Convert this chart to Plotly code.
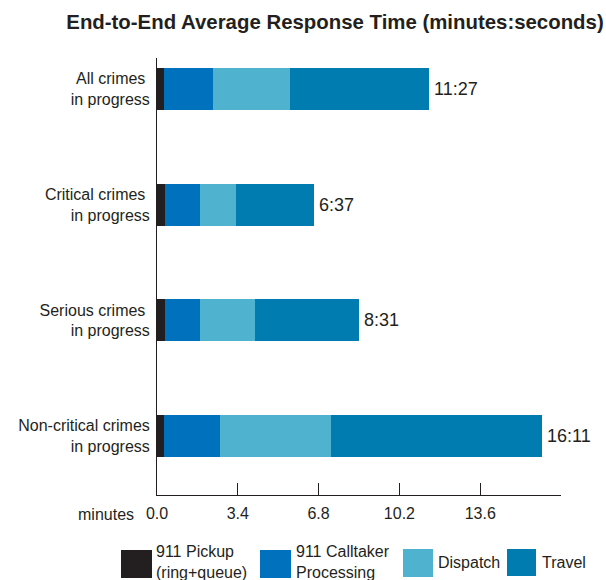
import plotly.graph_objects as go

# Crime categories (top to bottom) and phase durations in seconds
categories = [
    "All crimes\u00a0<br>in progress",
    "Critical crimes\u00a0<br>in progress",
    "Serious crimes\u00a0<br>in progress",
    "Non-critical crimes<br>in progress",
]
pickup_s = [18, 19, 19, 18]
calltaker_s = [124, 89, 90, 140]
dispatch_s = [195, 92, 138, 282]
travel_s = [350, 197, 264, 531]

phase_names = ["911 Pickup<br>(ring+queue)", "911 Calltaker<br>Processing", "Dispatch", "Travel"]
phase_colors = ["#231f20", "#0071bc", "#4fb3cf", "#007cb0"]
x_ticks = [0.0, 3.4, 6.8, 10.2, 13.6]

TEXT = "#231f20"
FONT = "Liberation Sans, Arial, sans-serif"

W, H = 606, 580
L, R, T, B = 157, 45, 58, 85

fig = go.Figure()
series = [pickup_s, calltaker_s, dispatch_s, travel_s]
for name, color, secs in zip(phase_names, phase_colors, series):
    fig.add_trace(go.Bar(
        y=categories,
        x=[s / 60 for s in secs],
        orientation="h",
        name=name,
        marker=dict(color=color, line=dict(width=0)),
        width=0.363,
        showlegend=False,
        hoverinfo="skip",
    ))

# Total time labels at the end of each bar (mm:ss)
totals = [sum(v) for v in zip(*series)]
for cat, tot in zip(categories, totals):
    fig.add_annotation(
        x=tot / 60, y=cat, xref="x", yref="y",
        text=f"{tot // 60}:{tot % 60:02d}",
        showarrow=False, xanchor="left", xshift=3,
        font=dict(family=FONT, size=18, color=TEXT),
    )

# Hand-drawn legend along the bottom
def px_to_paper(px, py):
    return (px - L) / (W - L - R), (H - B - py) / (H - T - B)

legend_items = [
    (121, 550, 152, 578, 154),
    (260, 550, 291, 578, 294),
    (403, 549, 433, 577, 436),
    (507, 549, 536, 576, 540),
]
for (x0, y0, x1, y1, tx), name, color in zip(legend_items, phase_names, phase_colors):
    ax0, ay0 = px_to_paper(x0, y1)
    ax1, ay1 = px_to_paper(x1, y0)
    fig.add_shape(type="rect", xref="paper", yref="paper",
                  x0=ax0, y0=ay0, x1=ax1, y1=ay1,
                  fillcolor=color, line=dict(width=0))
    tx_p, ty_p = px_to_paper(tx, 562)
    fig.add_annotation(x=tx_p, y=ty_p, xref="paper", yref="paper",
                       text=name, showarrow=False, xanchor="left", yanchor="middle",
                       align="left", font=dict(family=FONT, size=16, color=TEXT))

# "minutes" axis caption
mx, my = px_to_paper(136, 514)
fig.add_annotation(x=mx, y=my, xref="paper", yref="paper", text="minutes",
                   showarrow=False, xanchor="right", yanchor="middle",
                   font=dict(family=FONT, size=16, color=TEXT))

fig.update_layout(
    width=W, height=H,
    margin=dict(l=L, r=R, t=T, b=B, autoexpand=False),
    barmode="stack",
    bargap=0,
    plot_bgcolor="white",
    paper_bgcolor="white",
    showlegend=False,
    title=dict(
        text="<b>End-to-End Average Response Time (minutes:seconds)</b>",
        x=335 / W, xanchor="center", y=1 - 22 / H, yanchor="middle",
        xref="container", yref="container",
        font=dict(family=FONT, size=20.4, color=TEXT),
    ),
    xaxis=dict(
        range=[0, 17],
        tickvals=x_ticks,
        ticktext=[f"{v:.1f}" for v in x_ticks],
        ticks="inside", ticklen=12, tickcolor=TEXT, tickwidth=1,
        showline=True, linecolor=TEXT, linewidth=1,
        showgrid=False, zeroline=False,
        tickfont=dict(family=FONT, size=16, color=TEXT),
        ticklabelstandoff=4,
    ),
    yaxis=dict(
        categoryorder="array", categoryarray=categories,
        range=[3.51, -0.27],
        showline=True, linecolor=TEXT, linewidth=1,
        showgrid=False, zeroline=False, ticks="",
        tickfont=dict(family=FONT, size=16, color=TEXT),
        ticklabelstandoff=3,
    ),
)

fig.write_html("out.html")
